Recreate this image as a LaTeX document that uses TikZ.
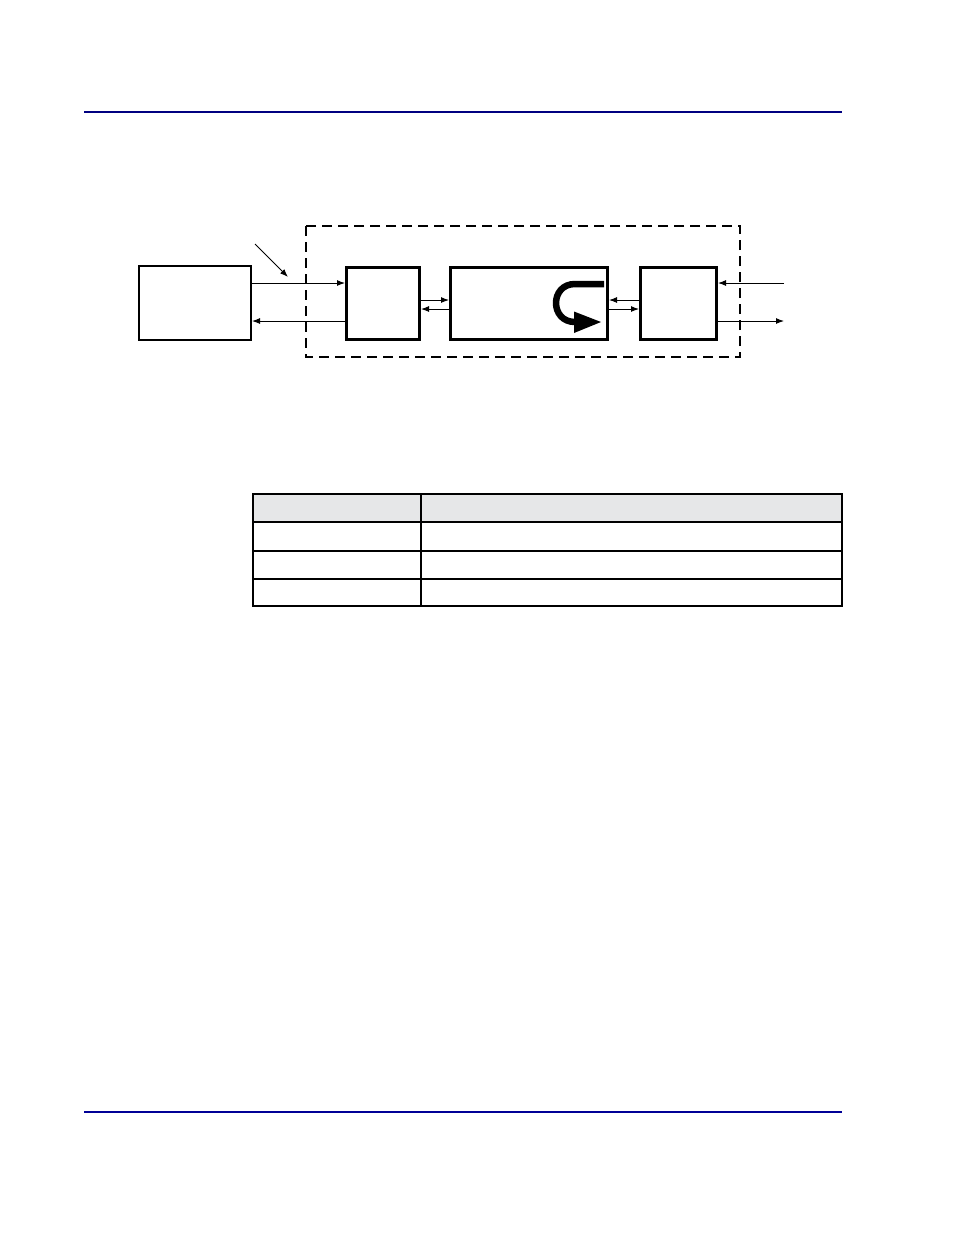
\documentclass[tikz,border=0pt]{standalone}
\usetikzlibrary{arrows.meta}
\definecolor{navy}{RGB}{0,0,128}
\definecolor{navyb}{RGB}{0,0,150}
\definecolor{hdr}{RGB}{230,231,232}
\begin{document}
\begin{tikzpicture}[x=1pt,y=-1pt,
  blk/.style={draw,line width=3pt,inner sep=0pt,minimum width=#1,minimum height=72pt},
  conn/.style={line width=1pt,-{Latex[length=8pt,width=6pt]}},
  rule/.style={line width=1.5pt}]
\useasboundingbox (0,0) rectangle (954,1235);
% page rules
\draw[navy,line width=2.3pt] (84,112) -- (842,112);
\draw[navyb,line width=1.3pt] (84,1112) -- (842,1112);
% dashed enclosure
\draw[line width=2pt,dash pattern=on 10pt off 6pt] (306,226) rectangle (740,357);
% blocks
\node[draw,line width=2pt,inner sep=0pt,minimum width=112pt,minimum height=74pt] (A) at (195,303) {};
\node[blk=73pt] (B) at (383,303.5) {};
\node[blk=157pt] (C) at (529,303.5) {};
\node[blk=76pt] (D) at (678.5,303.5) {};
% y levels
\coordinate (y1) at (0,283);
\coordinate (y2) at (0,321);
\coordinate (y3) at (0,300);
\coordinate (y4) at (0,309);
\coordinate (ext) at (784,0);
\coordinate (p0) at (255,244);
\coordinate (p1) at (288,277);
% connectors
\draw[conn] (A.east |- y1) -- (B.west |- y1);
\draw[conn] (B.west |- y2) -- (A.east |- y2);
\draw[conn] (p0) -- (p1);
\draw[conn] (B.east |- y3) -- (C.west |- y3);
\draw[conn] (C.west |- y4) -- (B.east |- y4);
\draw[conn] (D.west |- y3) -- (C.east |- y3);
\draw[conn] (C.east |- y4) -- (D.west |- y4);
\draw[conn] (ext |- y1) -- (D.east |- y1);
\draw[conn] (D.east |- y2) -- (ext |- y2);
% U-turn symbol inside C
\draw[line width=6.5pt] (604,284) -- (575,284) .. controls (549.7,284) and (549.7,322) .. (575,322);
\fill (574,311.5) -- (601,322) -- (574,333) -- cycle;
% table
\fill[hdr] (253,494) rectangle (842,522);
\draw[rule] (253,522) -- (842,522);
\draw[rule] (253,551) -- (842,551);
\draw[rule] (253,579) -- (842,579);
\draw[line width=2pt] (421,494) -- (421,606);
\draw[line width=2pt] (253,494) rectangle (842,606);
\end{tikzpicture}
\end{document}
